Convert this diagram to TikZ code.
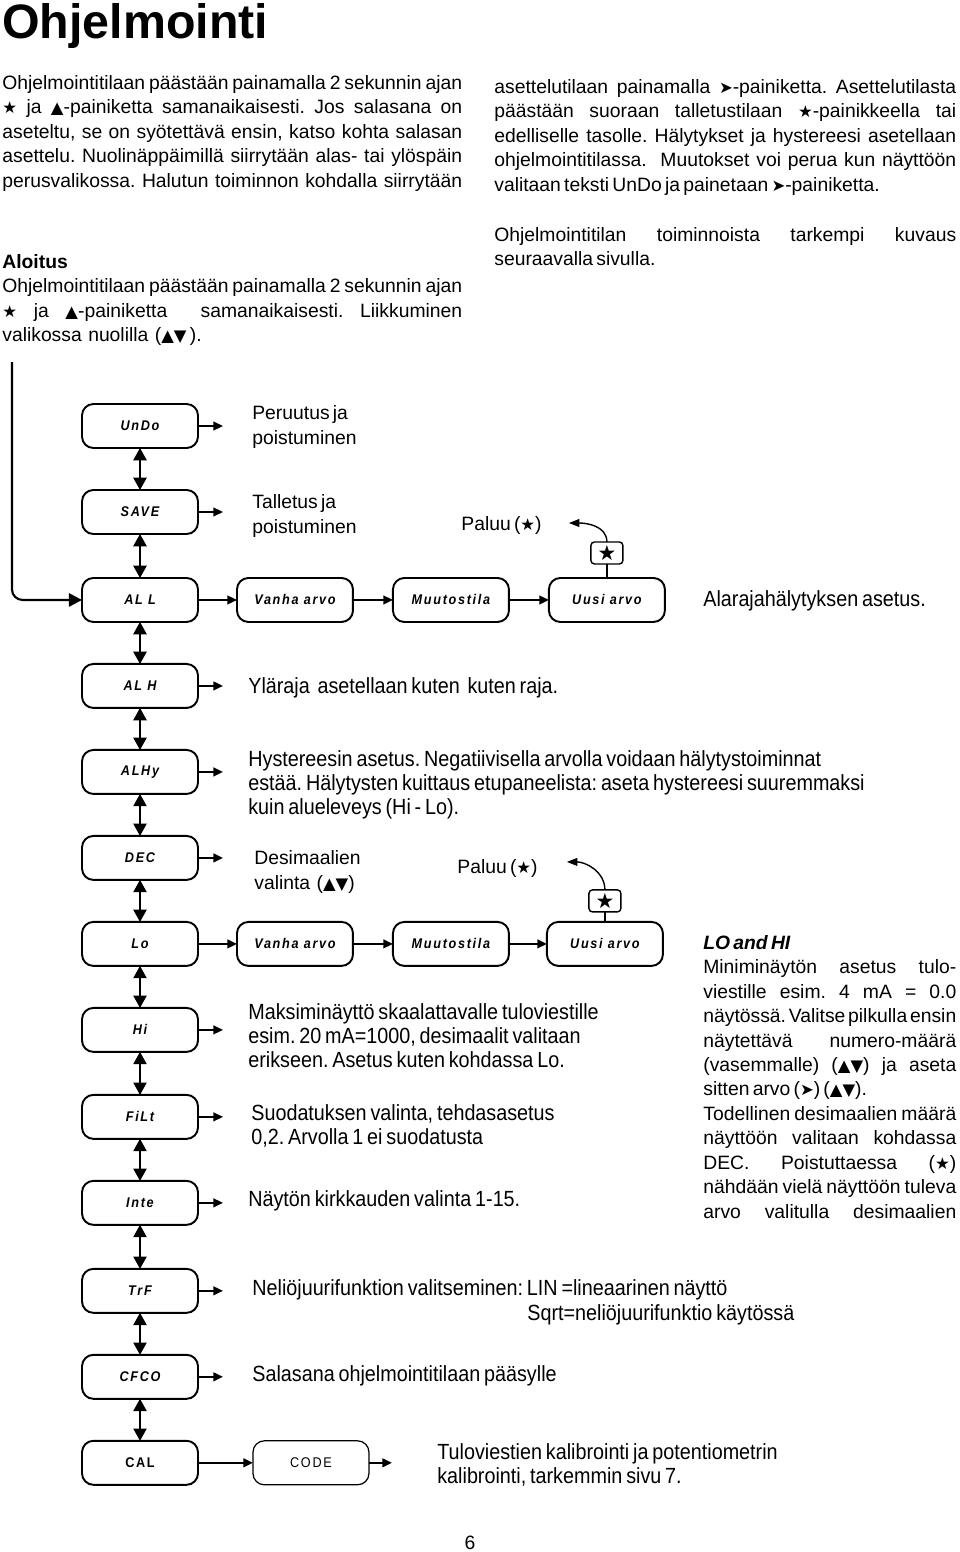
\documentclass[tikz,border=0pt]{standalone}
\usepackage{fontspec}
\setmainfont[WordSpace=0.6]{Liberation Sans}
\newfontfamily\narrowfont[FakeStretch=0.9, WordSpace=0.7]{Liberation Sans}
\newfontfamily\segfont[LetterSpace=12,FakeStretch=0.9]{Liberation Sans}
\newfontfamily\symfont[Scale=0.85]{DejaVu Sans}
\usetikzlibrary{arrows.meta, positioning}
\newcommand{\starsym}{{\symfont ★}}
\newcommand{\upsym}{{\symfont ▲}}
\newcommand{\dnsym}{{\symfont ▼}}
\newcommand{\nxsym}{{\symfont ➤}}
\newcommand{\jl}[2]{\makebox[#1][s]{#2}}
\frenchspacing
\tikzset{
  pagehead/.style={anchor=base west, inner sep=0pt, font=\bfseries\fontsize{27.5}{30}\selectfont},
  bodytxt/.style={inner sep=0pt, align=left, font=\fontsize{11}{13.9}\selectfont},
  narrowtxt/.style={inner sep=0pt, align=left, font=\narrowfont\fontsize{12.5}{13.6}\selectfont},
  menubox/.style={rectangle, rounded corners=6.5pt, draw=black, line width=1.1pt, fill=white,
    minimum width=2.32cm, minimum height=0.88cm, inner sep=0pt, outer sep=0pt,
    font=\segfont\bfseries\itshape\fontsize{8}{9}\selectfont},
  starbox/.style={rectangle, rounded corners=2pt, draw=black, line width=0.8pt, fill=white,
    minimum width=0.64cm, minimum height=0.44cm, inner sep=0pt, outer sep=0pt,
    font=\fontsize{14}{15}\selectfont},
  dblarr/.style={{Triangle[width=7.6pt,length=7pt]}-{Triangle[width=7.6pt,length=7pt]}, line width=0.7pt},
  outarr/.style={-{Triangle[width=5pt,length=5.5pt]}, line width=1pt},
  entryarr/.style={-{Triangle[width=7.6pt,length=7.5pt]}, line width=1.2pt, rounded corners=6pt},
  backarr/.style={-{Triangle[width=4.5pt,length=6pt]}, line width=0.8pt},
}
\begin{document}
\begin{tikzpicture}[x=0.02cm, y=-0.02cm]
  \useasboundingbox (0,0) rectangle (960,1552);
  % page text
  \node[pagehead] (head) at (2,38) {Ohjelmointi};
  \node[bodytxt, anchor=north west] (intro) at (2,75) {%
    \jl{9.2cm}{Ohjelmointitilaan päästään painamalla 2 sekunnin ajan}\\
    \jl{9.2cm}{\starsym{} ja \upsym-painiketta samanaikaisesti. Jos salasana on}\\
    \jl{9.2cm}{aseteltu, se on syötettävä ensin, katso kohta salasan}\\
    \jl{9.2cm}{asettelu. Nuolinäppäimillä siirrytään alas- tai ylöspäin}\\
    \jl{9.2cm}{perusvalikossa. Halutun toiminnon kohdalla siirrytään}};
  \node[bodytxt, anchor=north west] (introcont) at (494,79) {%
    \jl{9.24cm}{asettelutilaan painamalla \nxsym-painiketta. Asettelutilasta}\\
    \jl{9.24cm}{päästään suoraan talletustilaan \starsym-painikkeella tai}\\
    \jl{9.24cm}{edelliselle tasolle. Hälytykset ja hystereesi asetellaan}\\
    \jl{9.24cm}{ohjelmointitilassa. \ Muutokset voi perua kun näyttöön}\\
    valitaan teksti UnDo ja painetaan \nxsym-painiketta.};
  \node[bodytxt, anchor=north west] (nextpage) at (494,227) {%
    \jl{9.24cm}{Ohjelmointitilan toiminnoista tarkempi kuvaus}\\
    seuraavalla sivulla.};
  \node[bodytxt, anchor=north west] (start) at (2,254) {%
    {\bfseries Aloitus}\\
    \jl{9.2cm}{Ohjelmointitilaan päästään painamalla 2 sekunnin ajan}\\
    \jl{9.2cm}{\starsym{} ja \upsym-painiketta \ samanaikaisesti. Liikkuminen}\\
    valikossa \ nuolilla \ (\upsym\dnsym{} ).};
  \node[bodytxt, anchor=north west] (lohi) at (703,935) {%
    {\bfseries\itshape LO and HI}\\
    \jl{5.06cm}{Miniminäytön asetus tulo-}\\
    \jl{5.06cm}{viestille esim. 4 mA = 0.0}\\
    \jl{5.06cm}{näytössä. Valitse pilkulla ensin}\\
    \jl{5.06cm}{näytettävä numero-määrä}\\
    \jl{5.06cm}{(vasemmalle) (\upsym\dnsym) ja aseta}\\
    sitten arvo (\nxsym) (\upsym\dnsym).\\
    \jl{5.06cm}{Todellinen desimaalien määrä}\\
    \jl{5.06cm}{näyttöön valitaan kohdassa}\\
    \jl{5.06cm}{DEC. Poistuttaessa (\starsym)}\\
    \jl{5.06cm}{nähdään vielä näyttöön tuleva}\\
    \jl{5.06cm}{arvo valitulla desimaalien}};
  \node[bodytxt] (pagenum) at (470,1543) {6};

  % menu column
  \node[menubox] (undo) at (140,426) {UnDo};
  \node[menubox, below=0.84cm of undo] (save) {SAVE};
  \node[menubox, below=0.88cm of save] (all) {AL L};
  \node[menubox, below=0.84cm of all] (alh) {AL H};
  \node[menubox, below=0.84cm of alh] (alhy) {ALHy};
  \node[menubox, below=0.84cm of alhy] (dec) {DEC};
  \node[menubox, below=0.84cm of dec] (lo) {Lo};
  \node[menubox, below=0.84cm of lo] (hi) {Hi};
  \node[menubox, below=0.86cm of hi] (filt) {FiLt};
  \node[menubox, below=0.84cm of filt] (inte) {Inte};
  \node[menubox, below=0.88cm of inte] (trf) {TrF};
  \node[menubox, below=0.84cm of trf] (cfco) {CFCO};
  \node[menubox, below=0.84cm of cfco, font=\segfont\bfseries\fontsize{8}{9}\selectfont] (cal) {CAL};
  \node[menubox, right=1.1cm of cal, line width=0.7pt, font=\segfont\fontsize{8}{9}\selectfont] (code) {CODE};

  % value rows
  \node[menubox, right=0.78cm of all] (old1) {Vanha arvo};
  \node[menubox, right=0.8cm of old1] (edit1) {Muutostila};
  \node[menubox, right=0.8cm of edit1] (new1) {Uusi arvo};
  \node[menubox, right=0.78cm of lo] (old2) {Vanha arvo};
  \node[menubox, right=0.8cm of old2] (edit2) {Muutostila};
  \node[menubox, right=0.76cm of edit2] (new2) {Uusi arvo};
  \node[starbox, above=0.28cm of new1] (star1) {\starsym};
  \node[starbox, above=0.2cm of new2] (star2) {\starsym};
  \coordinate[above left=0.38cm and 0.76cm of star1.north] (ret1);
  \coordinate[above left=0.56cm and 0.76cm of star2.north] (ret2);

  % up/down moves
  \draw[dblarr] (undo) -- (save);
  \draw[dblarr] (save) -- (all);
  \draw[dblarr] (all) -- (alh);
  \draw[dblarr] (alh) -- (alhy);
  \draw[dblarr] (alhy) -- (dec);
  \draw[dblarr] (dec) -- (lo);
  \draw[dblarr] (lo) -- (hi);
  \draw[dblarr] (hi) -- (filt);
  \draw[dblarr] (filt) -- (inte);
  \draw[dblarr] (inte) -- (trf);
  \draw[dblarr] (trf) -- (cfco);
  \draw[dblarr] (cfco) -- (cal);

  % entry
  \coordinate (enter) at (12,362);
  \draw[entryarr] (enter) |- (all.west);

  % rows
  \draw[outarr] (all) -- (old1);
  \draw[outarr] (old1) -- (edit1);
  \draw[outarr] (edit1) -- (new1);
  \draw[outarr] (lo) -- (old2);
  \draw[outarr] (old2) -- (edit2);
  \draw[outarr] (edit2) -- (new2);
  \draw[outarr] (cal) -- (code);
  \draw[line width=0.8pt] (star1) -- (new1);
  \draw[line width=0.8pt] (star2) -- (new2);
  \draw[backarr] (star1.north) to[out=90, in=0] (ret1);
  \draw[backarr] (star2.north) to[out=90, in=0] (ret2);

  % side arrows
  \coordinate[right=0.5cm of undo] (undo-out);
  \coordinate[right=0.5cm of save] (save-out);
  \coordinate[right=0.5cm of alh] (alh-out);
  \coordinate[right=0.5cm of alhy] (alhy-out);
  \coordinate[right=0.5cm of dec] (dec-out);
  \coordinate[right=0.5cm of hi] (hi-out);
  \coordinate[right=0.5cm of filt] (filt-out);
  \coordinate[right=0.5cm of inte] (inte-out);
  \coordinate[right=0.5cm of trf] (trf-out);
  \coordinate[right=0.5cm of cfco] (cfco-out);
  \coordinate[right=0.46cm of code] (code-out);
  \draw[outarr] (undo) -- (undo-out);
  \draw[outarr] (save) -- (save-out);
  \draw[outarr] (alh) -- (alh-out);
  \draw[outarr] (alhy) -- (alhy-out);
  \draw[outarr] (dec) -- (dec-out);
  \draw[outarr] (hi) -- (hi-out);
  \draw[outarr] (filt) -- (filt-out);
  \draw[outarr] (inte) -- (inte-out);
  \draw[outarr] (trf) -- (trf-out);
  \draw[outarr] (cfco) -- (cfco-out);
  \draw[outarr] (code) -- (code-out);

  % descriptions
  \node[bodytxt, anchor=west] (undo-txt) at (252,427) {Peruutus ja\\poistuminen};
  \node[bodytxt, anchor=west] (save-txt) at (252,516) {Talletus ja\\poistuminen};
  \node[bodytxt, anchor=east] (ret1-txt) at (542,525) {Paluu (\starsym)};
  \node[narrowtxt, anchor=west] (all-txt) at (703,601) {Alarajahälytyksen asetus.};
  \node[narrowtxt, anchor=west] (alh-txt) at (248,688) {Yläraja \ asetellaan kuten \ kuten raja.};
  \node[narrowtxt, anchor=west] (alhy-txt) at (248,785) {Hystereesin asetus. Negatiivisella arvolla voidaan hälytystoiminnat\\
    estää. Hälytysten kuittaus etupaneelista: aseta hystereesi suuremmaksi\\
    kuin alueleveys (Hi - Lo).};
  \node[bodytxt, anchor=west] (dec-txt) at (254,872) {Desimaalien\\valinta \ (\upsym\dnsym)};
  \node[bodytxt, anchor=east] (ret2-txt) at (538,868) {Paluu (\starsym)};
  \node[narrowtxt, anchor=west] (hi-txt) at (248,1036) {Maksiminäyttö skaalattavalle tuloviestille\\
    esim. 20 mA=1000, desimaalit valitaan\\
    erikseen. Asetus kuten kohdassa Lo.};
  \node[narrowtxt, anchor=west] (filt-txt) at (251,1126) {Suodatuksen valinta, tehdasasetus\\0,2. Arvolla 1 ei suodatusta};
  \node[narrowtxt, anchor=west] (inte-txt) at (248,1201) {Näytön kirkkauden valinta 1-15.};
  \node[narrowtxt, anchor=west] (trf-txt) at (252,1290) {Neliöjuurifunktion valitseminen: LIN =lineaarinen näyttö};
  \node[narrowtxt, anchor=west] (trf-txt2) at (527,1315) {Sqrt=neliöjuurifunktio käytössä};
  \node[narrowtxt, anchor=west] (cfco-txt) at (252,1376) {Salasana ohjelmointitilaan pääsylle};
  \node[narrowtxt, anchor=west] (code-txt) at (437,1465) {Tuloviestien kalibrointi ja potentiometrin\\kalibrointi, tarkemmin sivu 7.};
\end{tikzpicture}
\end{document}
